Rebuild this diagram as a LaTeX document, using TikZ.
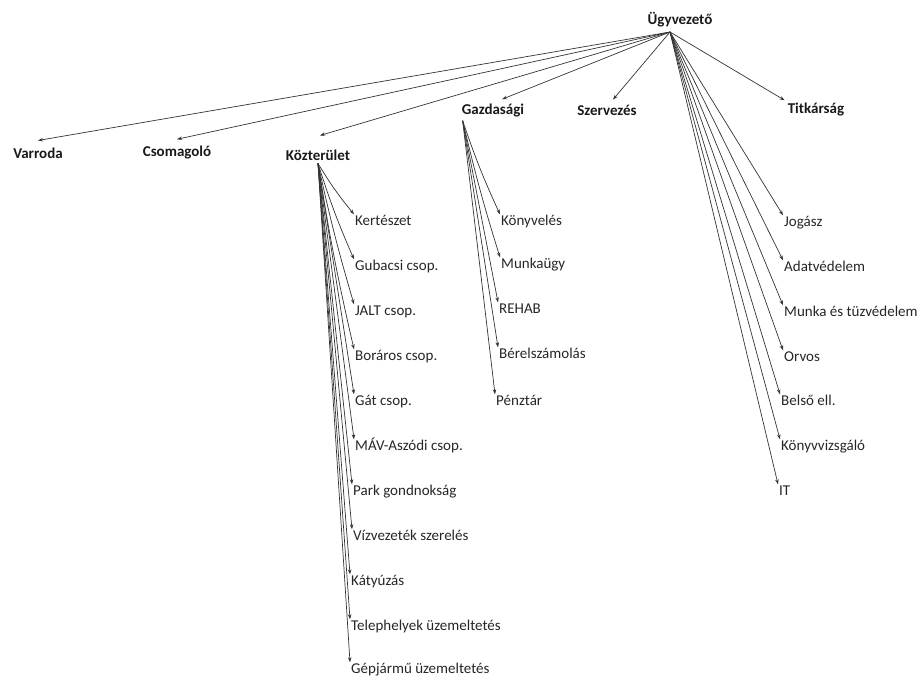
\documentclass[tikz,border=0pt]{standalone}
\usepackage{fontspec}
\setmainfont{Carlito}
\usetikzlibrary{arrows.meta}

\tikzset{
  head/.style={font=\fontsize{15}{18}\selectfont\bfseries, text=black!90, inner sep=3pt},
  unit/.style={font=\fontsize{15}{18}\selectfont, text=black!85, anchor=west,
               inner sep=1pt, text height=10pt, text depth=3pt},
  arr/.style={draw=black!80, line width=0.7pt, -{Stealth[length=5pt,width=3.5pt]}},
}

\begin{document}
\begin{tikzpicture}[x=1pt, y=-1pt]
  \useasboundingbox (0,0) rectangle (920,680);

  % Top level
  \node[head] (ugy)    at (680,20)  {Ügyvezető};
  \coordinate (ugyfoot) at (670,32);

  \node[head] (varroda) at (38,153)  {Varroda};
  \node[head] (csomag)  at (177,153) {Csomagoló};
  \node[head] (kozter)  at (318,155) {Közterület};
  \node[head] (gazd)    at (493,111) {Gazdasági};
  \node[head] (szerv)   at (607,110) {Szervezés};
  \node[head] (titk)    at (816,110) {Titkárság};

  \draw[arr] (ugyfoot) -- ([yshift=4pt]varroda.north);
  \draw[arr] (ugyfoot) -- ([yshift=4pt]csomag.north);
  \draw[arr] (ugyfoot) -- ([yshift=11pt,xshift=2pt]kozter.north);
  \draw[arr] (ugyfoot) -- ([yshift=2pt,xshift=9pt]gazd.north);
  \draw[arr] (ugyfoot) -- ([yshift=2pt,xshift=6pt]szerv.north);
  \draw[arr] (ugyfoot) -- (titk.north west);

  % Kozterulet
  \node[unit] (k1)  at (354,222) {Kertészet};
  \node[unit] (k2)  at (354,267) {Gubacsi csop.};
  \node[unit] (k3)  at (354,312) {JALT csop.};
  \node[unit] (k4)  at (354,357) {Boráros csop.};
  \node[unit] (k5)  at (354,402) {Gát csop.};
  \node[unit] (k6)  at (354,447) {MÁV-Aszódi csop.};
  \node[unit] (k7)  at (352,492) {Park gondnokság};
  \node[unit] (k8)  at (352,537) {Vízvezeték szerelés};
  \node[unit] (k9)  at (350,582) {Kátyúzás};
  \node[unit] (k10) at (350,627) {Telephelyek üzemeltetés};
  \node[unit] (k11) at (350,670) {Gépjármű üzemeltetés};

  \draw[arr] (kozter.south) to[bend right=4] (k1.north west);
  \draw[arr] (kozter.south) to[bend right=3] (k2.north west);
  \draw[arr] (kozter.south) to[bend right=2] (k3.north west);
  \draw[arr] (kozter.south) to[bend right=2] (k4.north west);
  \draw[arr] (kozter.south) -- (k5.north west);
  \draw[arr] (kozter.south) -- (k6.north west);
  \draw[arr] (kozter.south) -- (k7.north west);
  \draw[arr] (kozter.south) -- (k8.north west);
  \draw[arr] (kozter.south) -- (k9.north west);
  \draw[arr] (kozter.south) -- (k10.north west);
  \draw[arr] (kozter.south) -- (k11.north west);

  % Gazdasagi
  \node[unit] (g1) at (500,222) {Könyvelés};
  \node[unit] (g2) at (500,265) {Munkaügy};
  \node[unit] (g3) at (498,310) {REHAB};
  \node[unit] (g4) at (498,355) {Bérelszámolás};
  \node[unit] (g5) at (495,402) {Pénztár};

  \draw[arr] ([xshift=4pt]gazd.south west) to[bend right=3] (g1.north west);
  \draw[arr] ([xshift=4pt]gazd.south west) to[bend right=2] (g2.north west);
  \draw[arr] ([xshift=4pt]gazd.south west) -- (g3.north west);
  \draw[arr] ([xshift=4pt]gazd.south west) -- (g4.north west);
  \draw[arr] ([xshift=4pt]gazd.south west) -- (g5.north west);

  % Ugyvezeto alatt
  \node[unit] (u1) at (783,223) {Jogász};
  \node[unit] (u2) at (783,268) {Adatvédelem};
  \node[unit] (u3) at (783,313) {Munka és tüzvédelem};
  \node[unit] (u4) at (783,358) {Orvos};
  \node[unit] (u5) at (780,402) {Belső ell.};
  \node[unit] (u6) at (780,447) {Könyvvizsgáló};
  \node[unit] (u7) at (778,492) {IT};

  \draw[arr] (ugyfoot) -- (u1.north west);
  \draw[arr] (ugyfoot) -- (u2.north west);
  \draw[arr] (ugyfoot) -- (u3.north west);
  \draw[arr] (ugyfoot) -- (u4.north west);
  \draw[arr] (ugyfoot) -- (u5.north west);
  \draw[arr] (ugyfoot) -- (u6.north west);
  \draw[arr] (ugyfoot) -- (u7.north west);
\end{tikzpicture}
\end{document}
